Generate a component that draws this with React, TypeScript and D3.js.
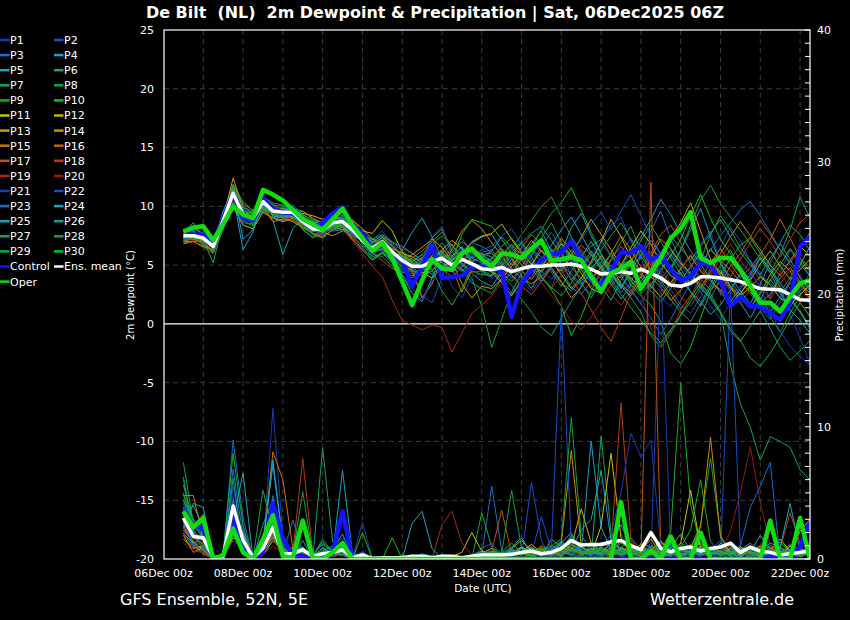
import React, { useEffect } from 'react';
import * as d3 from 'd3';

// GEFS run 06Dec2025 06Z, De Bilt. 6-hourly steps from 06Dec 12Z to 22Dec 06Z (64 steps)
const runStart = Date.UTC(2025, 11, 6, 12);

// ---- 2m dewpoint (°C) ----
const dewP1 = [7.3,7.6,7.0,6.5,8.6,10.8,9.6,8.8,10.2,9.8, 9.2,9.0,8.5,7.6,7.9,8.9,9.1,8.2,6.8,5.9, 6.5,5.2,4.1,3.5,4.8,6.2,5.9,4.7,6.3,5.5, 4.6, 3.8,4.6,5.8,6.9,5.2,4.1,3.0,5.5,7.4,6.2, 4.0,2.8,3.9,6.1,7.3,5.6,3.4,2.2,1.5,2.8, 4.5,6.8,7.9,5.2,3.1,2.4,4.3,6.1,5.0,3.2, 0.8,-1.2,-3.4];
const dewP2 = [7.6,7.4,7.5,6.9,9.1,11.4,8.9,9.3,10.9,9.4, 9.9,9.6,8.9,8.3,7.6,8.2,8.4,7.5,7.8,7.1, 7.9,6.8,5.9,4.6,2.4,1.8,3.9,6.4,7.3,6.0, 5.9, 5.4,3.9,2.6,3.4,5.1,6.6,7.8,6.3,4.0,3.3, 5.2,6.9,8.4,9.1,7.0,5.5,6.2,4.1,2.9,1.6, 0.9,2.3,4.8,6.5,8.2,7.1,5.3,3.6,2.2,4.4, 6.3,5.1,4.0];
const dewP3 = [7.9,7.7,7.2,6.3,8.2,10.3,8.6,8.5,9.8,9.3, 9.6,10.1,9.3,8.8,8.1,7.9,8.0,7.8,7.4,6.9, 7.3,6.5,5.8,5.0,5.6,6.4,5.2,4.4,4.9,5.7, 6.1, 6.3,5.1,4.2,3.3,4.0,5.4,6.0,4.6,3.1,2.5, 3.6,4.9,3.8,2.7,3.5,5.8,7.9,9.6,7.2,5.4, 4.1,3.0,2.2,3.8,5.7,4.3,2.6,1.3,0.4,1.9, 3.5,2.4,1.7];
const dewP4 = [7.4,8.2,7.6,6.8,9.5,10.9,6.3,7.8,10.6,9.1, 8.8,9.3,8.4,7.9,8.5,9.0,8.3,7.1,6.5,5.5, 6.1,5.4,6.3,7.8,9.0,7.4,5.5,4.6,5.8,7.0, 7.5, 7.6,6.3,5.0,5.9,4.7,3.6,4.8,6.1,8.2,9.4, 7.5,5.9,4.4,3.1,4.6,6.7,5.3,3.9,4.8,6.3, 8.0,9.8,7.4,5.1,4.0,2.8,1.7,3.4,5.2,6.9, 8.4,7.6,6.2];
const dewP5 = [7.7,7.3,7.8,7.0,8.9,11.6,9.9,9.4,10.0,8.8, 5.9,8.1,9.0,8.6,7.7,8.4,9.2,8.7,7.0,6.1, 6.8,5.9,4.2,2.6,1.9,3.9,6.0,6.8,5.1,4.3, 3.6, 3.2,4.4,5.5,4.1,3.0,4.6,6.4,5.2,3.7,4.9, 6.2,5.0,3.4,2.1,3.3,4.0,2.8,1.9,3.0,4.4, 2.7,1.5,3.1,4.6,3.2,1.8,0.5,2.0,3.8,2.6, 1.2,0.3,-0.8];
const dewP6 = [7.2,7.6,6.9,6.1,8.4,10.7,9.7,9.2,10.1,10.0, 9.7,9.1,8.8,8.4,8.2,8.5,8.9,8.1,7.3,6.6, 7.4,6.3,5.6,5.3,5.9,5.1,4.5,5.6,6.6,5.3, 4.4, 4.0,5.7,6.7,5.9,6.8,7.9,6.2,5.0,6.3,5.5, 4.4,3.2,2.0,3.7,5.1,4.2,3.0,4.6,5.9,4.7, 3.3,5.0,6.4,5.3,3.6,2.5,3.9,5.6,4.3,2.7, 1.4,2.8,3.6];
const dewP7 = [7.5,7.9,7.1,5.2,8.7,11.2,9.5,8.7,10.6,9.4, 9.4,9.7,8.3,7.8,8.3,8.8,8.6,7.7,7.2,6.7, 6.6,5.8,5.1,4.5,4.3,5.0,5.9,5.3,4.6,3.5, 3.0, 2.6,3.8,4.9,5.6,6.2,5.3,4.4,3.2,4.5,5.8, 6.6,7.2,5.8,4.7,3.6,2.9,4.0,5.2,6.3,5.1, 4.2,3.3,2.6,1.0,-3.5,-6.8,-8.8,-11.6,-9.6,-10.0, -10.5,-12.4,-13.3];
const dewP8 = [7.8,8.6,7.4,6.7,9.3,11.9,10.4,9.6,10.9,10.1, 10.0,9.2,8.0,7.4,7.9,8.7,9.3,8.5,7.6,6.0, 5.7,4.9,3.8,3.2,4.5,5.8,6.9,5.6,4.7,3.9, 1.5, -2.0,0.4,2.7,4.3,5.9,7.3,8.6,6.9,5.3,3.5, 2.2,3.7,5.4,7.0,8.3,6.1,4.6,3.5,2.1,1.0, 0.2,1.7,3.4,5.0,6.3,4.7,3.0,1.9,0.6,-0.7, 0.9,2.4,3.5];
const dewP9 = [7.1,7.2,6.8,6.0,8.0,10.4,8.8,8.3,9.9,9.5, 9.3,9.8,9.6,8.9,8.4,8.0,8.2,7.9,7.5,7.2, 7.6,7.0,6.2,5.5,5.0,4.6,5.3,6.1,7.0,6.4, 5.9, 5.2,4.3,3.6,4.8,6.5,8.0,9.4,10.3,11.6,9.7, 7.8,6.0,4.5,3.9,5.3,7.1,8.4,7.0,5.6,4.2, 3.6,5.4,7.6,9.2,8.0,6.5,5.3,4.1,3.4,2.7, 3.9,5.6,4.8];
const dewP10 = [7.9,8.1,7.7,7.2,9.4,11.3,9.0,8.6,10.3,9.9, 9.8,9.4,8.1,7.3,7.7,8.3,8.5,7.2,6.3,5.4, 6.0,5.5,4.8,4.6,5.4,7.3,8.1,6.2,5.0,4.5, 4.2, 4.1,5.0,6.1,7.0,5.7,4.0,2.9,1.5,-1.0,0.6, 2.8,4.5,6.0,4.8,3.3,2.4,1.6,0.2,-2.5,-3.4, -2.0,0.5,2.8,4.3,5.5,6.7,7.3,6.0,4.6,3.1, 2.0,1.1,-0.2];
const dewP11 = [7.0,7.0,6.6,6.3,8.1,10.0,8.4,8.1,9.5,9.0, 8.7,9.0,9.4,9.2,8.9,9.1,8.8,8.4,7.9,7.7, 8.8,7.9,6.1,5.2,4.4,3.9,4.8,5.4,6.0,6.9, 7.4, 7.7,8.5,7.2,6.0,5.1,4.4,5.6,6.8,5.7,4.3, 3.0,2.6,3.9,5.0,6.5,7.9,6.8,5.2,4.1,3.6, 4.9,6.0,5.3,4.4,3.2,2.4,3.1,4.0,3.3,2.2, 1.6,2.5,3.3];
const dewP12 = [7.3,7.5,7.4,6.9,8.9,11.0,9.1,9.1,10.2,9.7, 9.4,9.1,8.6,8.0,8.2,8.6,9.0,8.8,8.1,7.2, 6.9,6.4,6.0,5.7,5.2,5.5,6.3,7.1,6.4,5.2, 4.9, 4.4,3.5,2.4,3.7,5.0,6.3,5.4,4.2,3.0,3.9, 5.3,7.0,8.9,7.4,5.6,4.4,3.2,2.3,3.5,4.7, 5.8,4.5,3.6,2.9,1.7,2.6,3.7,5.1,6.2,4.9, 3.8,4.6,5.5];
const dewP13 = [7.6,7.2,6.9,6.2,9.0,12.4,9.8,8.9,10.7,9.2, 9.0,8.7,8.2,7.7,7.4,8.0,8.4,7.9,6.9,6.2, 6.4,5.7,5.4,5.9,6.5,7.2,6.5,5.3,3.4,2.2, 3.2, 3.0,3.8,4.9,5.9,7.1,6.2,5.1,4.5,5.8,7.4, 8.9,7.6,6.3,5.0,3.9,3.1,4.6,6.0,7.3,8.6, 10.3,7.9,5.5,4.1,3.0,2.2,1.4,2.6,4.2,5.3, 4.5,3.4,2.6];
const dewP14 = [6.8,7.0,7.1,6.7,8.6,11.5,9.4,9.0,10.0,9.9, 9.8,9.6,9.1,8.5,7.8,7.5,7.9,8.3,7.6,7.0, 6.9,6.1,5.5,4.8,4.1,4.5,5.5,6.3,7.9,8.8, 8.1, 6.9,5.8,4.7,3.9,3.4,4.0,4.8,3.6,2.2,3.1, 4.6,5.8,4.9,3.4,2.6,4.0,5.7,7.2,6.4,5.2, 4.3,3.1,4.4,6.0,7.4,8.7,7.5,6.3,5.0,4.1, 5.4,6.6,5.8];
const dewP15 = [7.4,7.8,7.5,6.4,8.4,10.6,9.2,9.2,9.8,8.7, 8.9,9.3,9.6,9.0,8.6,8.9,8.1,7.4,6.6,6.5, 7.4,6.7,5.7,4.5,2.2,3.4,5.6,4.8,2.7,4.6, 5.0, 5.5,6.4,5.6,4.5,3.8,4.9,5.9,7.3,6.1,4.7, 3.9,4.8,6.0,7.5,6.3,4.8,4.0,3.1,2.0,2.9, 4.0,5.1,6.3,5.4,4.6,3.5,2.7,1.8,2.5,3.9, 4.8,3.6,2.1];
const dewP16 = [7.0,7.3,7.0,6.6,9.2,11.8,10.2,9.7,10.5,10.2, 9.5,8.8,8.4,8.2,8.0,8.1,8.6,8.9,7.7,6.8, 6.3,5.6,5.2,5.6,6.2,7.0,7.8,6.6,5.5,5.0, 4.8, 4.4,4.0,5.2,6.5,7.6,6.8,5.6,4.8,5.6,6.7, 5.9,4.6,3.3,4.1,5.4,6.3,5.0,3.7,2.5,1.3, 2.4,3.8,5.2,6.4,5.1,3.9,4.8,5.9,7.2,8.9, 7.3,5.6,4.4];
const dewP17 = [7.7,7.5,7.6,6.8,8.5,10.9,9.0,8.6,10.1,9.5, 9.1,9.7,9.0,8.0,7.5,8.2,8.8,8.0,7.0,6.0, 5.4,4.7,4.3,5.0,5.7,5.2,4.7,4.0,4.8,5.6, 5.9, 6.0,5.3,4.1,3.2,2.5,3.6,4.9,5.7,4.8,3.9, 3.2,4.3,5.5,6.6,5.5,4.5,6.0,7.6,8.4,6.9, 5.1,3.8,2.9,3.5,4.9,6.0,7.4,8.8,7.6,6.3, 5.2,6.4,7.8];
const dewP18 = [6.9,7.0,6.5,6.0,8.3,10.5,9.3,8.8,9.7,9.0, 9.2,9.4,9.1,8.7,8.3,8.4,8.0,7.3,6.2,5.8, 6.7,6.0,5.0,4.2,4.7,5.9,6.3,5.8,5.2,4.4, 4.5, 4.9,5.9,6.8,5.5,4.6,5.2,6.1,5.0,3.8,2.6, 1.2,-0.3,-1.5,0.5,2.6,4.1,5.4,4.2,3.3,4.6, 5.9,4.8,3.6,2.8,4.0,5.5,6.9,8.1,7.0,5.7, 7.2,8.6,9.4];
const dewP19 = [7.2,7.1,6.9,6.4,8.9,11.3,9.6,8.9,10.3,9.4, 9.0,8.9,8.5,8.0,7.6,8.1,8.0,7.1,6.0,4.9, 4.0,2.0,0.3,-0.1,-0.5,-0.1,-0.3,-2.4,-0.8,0.9, 1.6, 2.4,3.5,4.6,5.7,4.8,3.9,3.0,4.2,5.3,6.4, 5.0,3.7,2.5,1.6,2.8,4.3,5.6,4.7,3.4,2.3, 1.5,2.9,4.1,5.6,6.8,5.4,4.3,3.2,2.1,3.4, 4.6,3.3,1.9];
const dewP20 = [7.6,7.9,7.2,6.5,8.0,10.2,8.9,9.4,10.8,10.0, 9.6,9.2,8.7,8.4,8.5,8.9,9.4,8.6,7.5,6.9, 7.1,6.6,6.4,6.0,5.4,4.8,5.6,6.5,5.9,5.1, 4.7, 4.5,5.6,6.2,5.1,4.3,3.5,2.4,1.5,0.2,-0.5, 0.6,1.9,3.4,4.6,3.8,2.7,-0.4,-1.8,-0.6,1.2, 2.5,3.6,4.7,3.9,2.8,1.7,2.9,4.2,5.6,4.4, 3.0,1.8,0.7];
const dewP21 = [7.5,7.7,7.3,6.8,8.8,10.6,9.1,8.9,10.0,9.5, 9.3,9.5,8.9,8.3,8.1,8.7,8.5,7.6,6.6,6.2, 7.2,6.3,4.3,3.0,2.0,3.6,5.0,3.2,2.2,4.0, 4.3, 4.8,5.5,4.6,3.6,2.8,3.9,5.2,6.3,5.5,4.6, 5.8,6.9,5.7,4.0,2.7,1.8,3.2,4.9,6.1,5.0, 3.9,2.7,1.5,0.4,1.8,3.3,4.5,3.1,1.2,-0.6, -1.9,-2.8,-3.5];
const dewP22 = [7.8,7.4,7.6,7.1,9.0,11.2,9.7,9.3,10.6,9.8, 9.9,9.7,8.8,8.0,7.6,8.5,9.1,8.3,7.2,6.5, 6.9,6.0,5.1,4.7,5.5,7.4,8.3,5.7,5.0,5.8, 6.3, 6.6,7.5,8.1,6.7,5.3,4.5,3.8,4.7,6.0,7.2, 8.5,9.5,8.0,9.6,11.0,9.2,7.5,5.9,4.7,3.6, 4.8,6.2,5.0,3.7,2.9,4.1,5.4,4.4,3.3,2.5, 1.8,3.0,4.3];
const dewP23 = [7.2,7.3,6.8,6.2,8.7,11.0,9.0,8.7,10.4,9.7, 9.4,9.0,8.6,8.2,8.3,8.8,8.6,7.8,6.9,6.3, 6.8,5.9,5.4,5.1,4.6,5.3,6.0,5.5,6.2,6.9, 6.6, 6.1,5.0,3.9,4.5,5.8,7.0,6.3,5.1,4.2,3.4, 2.5,3.8,5.0,4.1,2.9,1.7,0.5,-0.9,0.4,2.0, 3.5,5.0,6.3,7.5,8.6,9.7,10.4,9.2,7.8,6.3, 5.1,4.0,2.9];
const dewP24 = [7.6,7.8,7.4,6.7,9.6,11.5,7.2,8.0,10.1,9.2, 9.0,9.4,8.8,8.6,8.7,9.2,8.9,8.2,7.6,7.0, 7.5,6.9,6.6,6.0,5.4,5.6,6.2,5.1,4.5,5.3, 5.7, 6.2,7.4,6.5,5.4,4.6,5.5,6.7,8.0,9.1,7.6, 6.0,4.7,3.6,4.8,6.2,7.4,8.9,10.6,9.3,7.7, 6.2,5.1,3.8,2.6,1.9,3.0,4.2,5.7,4.6,3.5, 2.3,1.0,-0.4];
const dewP25 = [7.9,7.5,7.1,6.6,8.3,10.8,9.5,8.6,9.6,9.6, 9.7,9.9,9.2,8.5,7.9,8.3,8.0,7.5,7.1,6.7, 7.0,6.2,5.7,5.2,4.8,4.2,4.9,5.8,6.5,5.6, 5.2, 4.7,3.6,4.3,5.5,6.3,5.7,4.6,3.5,2.8,3.7, 4.8,5.6,4.2,3.0,4.5,5.9,7.1,6.0,4.9,3.9, 2.7,1.9,0.8,1.6,2.9,4.3,3.4,2.2,1.0,2.3, 3.6,5.0,6.6];
const dewP26 = [7.4,7.6,7.2,6.9,9.1,11.7,10.0,9.5,10.4,9.3, 9.1,9.3,8.5,7.9,8.0,8.6,9.0,8.4,7.3,6.4, 6.2,5.3,4.6,3.9,4.9,5.7,5.2,4.6,5.4,6.2, 6.0, 5.7,4.9,5.8,6.9,7.7,8.3,7.1,5.9,4.8,5.7, 7.0,5.5,4.3,3.2,2.4,3.6,4.8,6.0,7.4,6.5, 5.4,6.6,7.7,8.9,7.4,6.1,5.0,4.2,5.6,6.8, 5.5,3.9,2.8];
const dewP27 = [7.7,8.0,7.0,6.1,8.6,11.0,9.4,8.9,9.9,9.6, 9.5,9.2,8.4,8.0,7.8,8.2,8.8,8.1,6.8,5.7, 6.0,5.2,4.4,4.1,4.9,5.4,5.8,4.9,5.3,6.0, 5.8, 5.3,4.2,3.3,2.1,1.0,-0.3,-1.0,0.5,1.9,3.2, 4.5,5.3,4.4,3.3,2.2,1.0,-1.0,-2.0,-0.8,0.7, 1.9,3.2,2.1,0.9,-0.6,-1.5,-0.2,1.1,-0.4,-2.0, -3.1,-2.3,-1.4];
const dewP28 = [7.3,7.7,7.5,7.0,9.2,11.4,9.2,9.1,10.8,10.3, 10.1,9.5,8.6,7.6,7.3,8.0,8.7,8.6,7.7,6.9, 7.3,6.6,5.9,5.3,5.9,6.8,7.5,6.7,5.7,4.9, 4.5, 4.2,5.3,6.4,7.6,8.8,10.0,10.8,9.1,7.4,6.0, 5.1,6.3,7.5,8.6,7.2,5.8,4.5,3.3,4.6,6.2, 8.4,10.5,11.8,10.2,9.1,8.0,6.8,5.5,4.4,5.9, 8.0,10.8,9.0];
const dewP29 = [7.0,7.4,6.7,6.3,8.1,10.9,9.3,8.4,9.8,9.3, 9.2,9.6,9.3,8.8,8.6,8.5,8.3,7.9,7.4,6.8, 6.5,5.6,4.9,4.4,5.2,4.6,2.8,1.6,3.0,4.8, 5.1, 5.6,6.6,7.3,6.2,5.0,3.9,3.1,2.4,3.5,4.8, 5.9,4.8,3.6,2.5,1.4,0.3,-0.8,-1.6,-0.5,0.8, 2.2,3.5,2.3,1.0,-0.4,-1.4,-2.9,-3.6,-2.5,-1.1, 0.4,1.8,0.6];
const dewP30 = [7.6,7.2,7.4,6.8,8.9,11.1,9.6,9.4,10.2,9.6, 9.5,9.0,8.9,8.3,8.0,8.4,8.2,7.7,7.0,6.5, 6.7,6.1,5.8,5.4,4.8,5.5,6.1,5.3,7.6,8.9, 8.6, 8.3,7.2,6.0,5.0,4.4,5.1,6.0,6.9,5.8,4.6, 3.5,2.9,3.9,5.0,3.7,2.6,3.4,4.5,5.8,7.2, 9.2,11.0,9.0,7.2,6.0,4.8,3.7,2.6,3.7,5.0, 6.4,5.3,4.1];
const dewControl = [7.7,7.6,7.6,6.7,9.0,11.0,9.0,8.8,10.7,9.8, 9.5,9.4,8.8,8.2,8.6,9.4,9.9,8.4,7.7,6.3, 6.7,6.0,5.4,3.2,4.9,6.7,3.9,4.0,4.1,4.8, 4.9, 4.6,4.6,0.6,3.45,4.6,5.4,5.9,6.1,7.0,5.6, 3.7,3.3,4.45,6.1,6.0,6.6,5.4,5.9,4.6,3.7, 4.0,5.2,5.0,3.7,1.5,2.3,1.5,1.5,0.9,0.35, 1.8,6.6,7.4];
const dewOper = [7.85,8.2,8.3,7.1,8.5,10.0,9.3,9.0,11.4,11.0, 10.5,9.7,8.9,8.5,8.0,8.9,9.8,8.4,7.3,6.2, 6.9,5.6,3.6,1.6,3.7,5.5,4.7,4.6,6.0,6.4, 5.5, 4.9,6.0,5.9,5.6,6.4,7.1,5.4,5.5,5.7,5.4, 4.0,2.75,4.3,4.7,5.3,3.0,4.3,5.6,7.3,8.1, 9.5,5.6,5.2,5.6,5.6,4.6,3.2,1.8,1.8,1.05, 2.3,3.45,3.7];
const dewMean = [7.5,7.5,7.3,6.6,8.8,11.1,9.3,9.0,10.4,9.6, 9.5,9.5,8.7,8.1,8.0,8.6,8.7,8.0,7.1,6.4, 7.0,6.1,5.4,4.9,4.9,5.3,5.6,5.0,5.5,5.1, 4.7, 4.6,4.8,4.45,4.7,4.9,4.9,5.0,5.0,5.1,4.9, 4.65,4.25,4.3,4.45,4.3,4.65,4.3,3.9,3.3,3.2, 3.45,4.0,4.0,3.9,3.75,3.6,3.3,3.0,2.95,2.9, 2.5,2.05,2.0];

// ---- 6h precipitation (mm) ----
const prP1 = [6.0,2.1,1.2,0,0.3,5.5,1.0,0,0.5,11.4, 1.8,0.6,0.4,0,0.2,0.5,1.2,0,2.8,0, 0,0,0,0.2,0,0,0.4,0,0,0.3, 0.5,0.8, 0.2, 0,0.3,1.1,0.4,0,0.6,1.5,0.9, 0.3,0,0.8,1.9,0.6,0,0.2,22.0,0.4,1.0, 0.3,0,0,0.5,1.2,0.4,0,0,0.6,0.2, 0,0.3,1.4];
const prP2 = [4.2,1.5,2.0,0,0,3.6,2.2,0,0.4,3.0, 0.5,0.3,0.9,0.1,0,0.3,0.8,0,0.6,0, 0,0,0.1,0,0,0.3,0,0,0,0.2, 0.8,1.2, 0.3, 0.6,0.2,5.8,1.4,0,0.5,0.9,0.3, 0,0.6,1.1,0.4,0,0.5,1.2,0.3,0,0.2, 0.6,1.0,0.4,0,20.5,0.8,0,0.3,0.2,0, 0.4,0,0.7];
const prP3 = [3.3,1.0,0.8,0,0.2,9.0,3.1,0,0.7,2.5, 0.4,2.95,0.5,0,0.3,0.6,0.4,0,0.2,0, 0,0.1,0,0,0.2,0,0,0.1,0,0, 0.3,5.5, 0.6, 0.4,0,0.6,0.2,1.0,0.7,0.3,0, 0.5,1.3,0.8,0.2,0,1.2,0.9,0.3,0,0.4, 0,0.2,0.7,1.4,0.5,0,0.3,0.6,0.2,0, 0.5,0.9,0.3];
const prP4 = [2.8,1.2,1.6,0,0,4.5,1.1,0,1.3,7.1, 1.2,0.4,0,0.2,0.8,0.3,1.0,0,0,0, 0,0,0.3,0,0,0.1,0,0,0.2,0, 0.6,0.2, 0.4, 0.9,1.6,0.4,0.8,0.3,1.2,2.0,0.5, 8.9,2.4,0.7,1.5,0.6,0.2,0.8,0.4,1.1,0.3, 0.9,0.4,0.2,1.0,0.6,0.3,0.5,1.8,0.7,0.4, 1.1,0.3,0.6];
const prP5 = [3.5,4.0,2.5,0,0.2,2.1,1.6,0,0.9,1.8, 0.6,0,0.3,0.3,1.1,0.7,1.9,0,0,0, 0,0,0,0,0.4,0.2,0,0,0,0.3, 0,0.4, 0.2, 0.6,0.3,0.8,0.2,1.5,0.9,0.4,0.2, 0.7,0.4,1.2,2.6,0.9,0.3,0.6,0.2,0.8,1.9, 0.6,0.3,0.9,0.4,0,0.7,1.2,0.5,0.3,0, 1.0,0.8,0.4];
const prP6 = [2.0,0.9,0.6,0,0.3,3.8,0.5,0,2.6,4.5, 0.9,0.2,1.4,0,0.6,1.0,0.5,0,0.4,0, 0,0.2,0,0,0,0,0.3,0,0,0, 0.2,0, 0.4, 0.5,0.9,0.3,0,0.6,1.1,0.8,0.4, 1.0,0.5,0.3,0.8,1.6,0.7,0.4,1.3,0.6,0.2, 0.5,1.4,0.7,0.3,0.9,0.2,0,0.5,1.0,0.6, 0.3,0.7,0.2];
const prP7 = [7.3,2.7,1.8,0,0,6.1,0.8,0,1.4,3.6, 1.0,0.3,0.7,0,8.4,1.3,0.6,0,0.5,0, 0,0,0.2,0,0,0,0,0.2,0,0, 0.4,0.2, 0.3, 0,0.5,0.3,0.8,0.4,0.2,1.3,0.6, 0.2,9.3,2.0,0.6,0.5,0.3,0.9,0.4,0.2,1.2, 0.8,0.5,0.3,0.6,0.2,0,0,0,0,0, 0,0,0];
const prP8 = [4.9,2.3,3.4,0,0.2,2.8,1.5,0,5.2,2.2, 0.7,0.4,5.1,0.3,0.5,0.2,0.9,0,0.3,0, 0,0,0,0.1,0,0,0,0,0.2,0, 0.3,0.6, 0.4, 5.2,0.8,0.4,0.3,0.7,1.4,0.5,0.9, 0.6,0.3,0.8,0.4,1.0,0.5,0.3,0.6,1.2,0.4, 0.9,2.6,7.6,1.8,0.4,0.2,0.6,0.3,0.8,0.5, 0.2,0.6,0.9];
const prP9 = [3.9,1.7,1.1,0,0.5,8.0,2.5,0,0.8,2.9, 0.3,0.6,0.9,0.2,1.3,0.4,0.7,0,0,0, 0,0,0,0,0,0.2,0,0,0,0, 3.5,0.9, 0.4, 0.3,0.6,0.2,0.4,0.8,0.5,0.3,1.0, 0.5,0.2,0.6,1.2,0.7,0.4,1.0,0.6,2.1,13.3, 4.1,1.0,0.6,0.3,0.8,0.5,0.2,0.4,0.7,0.3, 0.6,0.2,0.5];
const prP10 = [5.6,2.9,2.1,0,0,1.8,0.9,0,1.0,4.0, 0.8,0.2,0.6,0,0.4,0.3,1.2,0,2.0,0, 0,1.6,0,0,0,0,0.2,0,0,0.3, 0.6,0.3, 0.5, 1.2,0.5,0.9,0.4,0.2,0.7,1.6,0.8, 0.4,0.9,0.5,1.4,0.6,0.3,0.5,0.8,0.3,0.6, 1.1,0.4,0.7,0.3,0.5,0.9,0.4,0.2,0.6,1.3, 0.5,0.3,0.8];
const prP11 = [1.5,0.8,1.0,0,0.2,2.4,0.6,0,0.3,1.4, 0.5,0.2,0.4,0.1,0.3,0.2,0.5,0,0.2,0, 0,0,0,0.3,0.1,0,0,0.2,0.5,2.0, 0.6,0.3, 0.5, 0.4,0.9,0.5,0.2,0.7,0.4,1.1,0.6, 0.3,2.5,8.0,1.6,0.4,0.7,0.3,0.9,0.5,1.2, 5.2,0.8,0.4,0.6,0.3,0.9,0.5,0.2,0.7,1.5, 0.6,2.1,3.0];
const prP12 = [2.2,1.3,0.7,0,0.3,1.6,1.2,0,0.6,2.0, 0.4,0.8,0.3,0,0.2,0.6,0.3,0,0,0, 0,0,0.2,0,0,0,0.3,0.1,0,0, 0.2,0.5, 0.3, 0.8,1.4,0.6,0.3,0.5,0.2,0.9,3.8, 1.2,0.6,0.3,0.8,0.5,1.1,0.4,0.2,0.6,0.3, 0.7,1.2,0.5,0.3,0.8,0.4,0.6,1.0,0.3,0.2, 1.0,0.4,0.6];
const prP13 = [1.8,0.5,0.9,0,0.4,3.2,2.0,0,1.1,2.7, 0.6,0.3,0.2,0.1,0.4,0.8,0.6,0,0.2,0, 0,0,0,0.1,0,0.2,0,0,0,0.2, 0.4,0.8, 0.2, 0.3,0.6,1.1,0.5,0.3,0.9,0.6,0.4, 0.8,0.4,1.3,0.7,0.3,0.6,1.5,0.4,0.2,0.8, 0.5,0.9,0.3,1.2,0.6,0.3,0.8,0.4,0.2,0.6, 0.3,0.8,2.6];
const prP14 = [2.6,1.0,0.4,0,0.2,2.2,0.7,0,0.5,1.6, 0.3,0.9,0.6,0,0.2,0.3,0.8,0,0,0, 0,0,0,0,0,0,0,0,0,0.1, 0.3,0.2, 0.4, 0.6,0.4,0.8,0.3,0.5,1.2,8.2,1.0, 0.4,0.7,0.3,0.9,0.5,0.2,0.6,1.4,0.5,0.3, 0.8,2.4,9.2,1.7,0.4,0.6,0.3,0.8,0.5,0.2, 0.6,0.3,0.9];
const prP15 = [4.8,4.8,1.5,0,0.3,3.0,1.4,0,0.9,8.1, 6.0,0.8,0.3,0.2,0.5,0.4,0.6,0,0.3,0, 0,0,0.1,0,0,0,0,0,0.1,0, 0.2,0.5, 0.2, 0.3,0.8,0.4,1.0,0.6,0.3,0.7,0.5, 0.3,0.9,0.5,0.4,1.2,0.6,0.3,0.8,0.4,0.2, 0.6,0.3,0.9,0.5,0.2,0.7,0.4,0.3,0.6,0.9, 0.4,0.2,0.5];
const prP16 = [3.0,1.8,0.8,0,0.4,4.2,0.9,0,0.6,2.3, 1.5,0.4,0.8,0,0.3,0.6,0.9,0,0,0, 0,0,0,0.2,0,0,0,0,0,0, 0.5,0.3, 0.4, 0.7,0.4,0.2,0.6,0.9,0.4,0.8,0.3, 0.6,0.4,0.2,0.7,0.5,0.3,0.9,0.6,0.3,0.5, 0.4,0.8,0.6,0.3,1.1,0.5,0.2,0.6,0.9,0.4, 0.7,0.5,0.3];
const prP17 = [2.4,1.1,0.6,0,0,2.6,1.0,0,0.4,1.9, 0.5,0.3,0.6,0.1,0.2,0.3,0.4,0,0,0, 0,0,0,0,0,0.2,0,0,0,0, 0.4,0.6, 3.7, 0.4,0.5,0.3,0.8,0.4,0.2,0.6,0.9, 0.3,0.5,0.8,0.4,0.6,0.3,28.5,0.9,0.4,0.6, 0.2,0.7,0.4,0.3,0.5,0.8,0.3,0.6,0.4,0.2, 0.5,0.8,0.4];
const prP18 = [3.8,1.6,0.9,0,0.2,3.4,1.8,0,0.6,2.4, 0.8,0.5,7.6,0.4,0.3,0.5,0.7,0,0.2,0, 0,0,0,0,0,0,0,0,0,0, 0.3,0.5, 0.3, 0.2,0.6,0.4,0.9,0.3,0.5,0.8,0.4, 0.6,0.3,0.9,11.8,1.4,0.5,0.8,0.3,0.6,0.4, 0.9,0.3,0.5,0.7,0.4,0.2,0.6,0.9,0.3,0.8, 3.5,1.2,0.6];
const prP19 = [1.2,0.6,0.5,0,0.2,1.4,0.8,0,0.3,1.0, 0.4,0.2,0.3,0,0.1,0.2,0.3,0,0,0, 0,0,0,0,0,0,2.6,3.6,1.2,0.3, 0,0.2, 0.3, 0.4,0.1,0.3,0.5,0.2,0.4,0.6,0.3, 0.5,0.8,0.4,0.2,0.6,0.3,0.9,0.5,0.3,0.7, 0.4,0.2,0.5,0.8,0.3,0.6,0.4,0.2,0.5,0.3, 0.6,0.4,0.2];
const prP20 = [2.0,0.7,1.3,0,0.3,2.0,0.6,0,0.8,1.5, 0.3,0.6,0.4,0.2,0.3,0.4,0.5,0,0.1,0, 0,0,0,0,0,0,0,0.1,0,0, 0.2,0.4, 0.3, 0.6,0.3,0.5,0.2,0.8,0.4,0.3,0.6, 0.4,0.3,0.7,0.5,0.3,0.9,0.4,0.6,0.3,0.5, 0.8,0.3,0.6,0.4,2.1,5.0,8.5,4.3,1.1,0.4, 0.3,0.7,0.5];
const prP21 = [2.7,1.4,0.9,0,0.2,4.8,1.3,0,0.7,3.4, 0.9,0.5,0.3,0,0.4,0.8,1.6,0,0.5,0, 0,0,0,0,0.1,0,0,0,0,0.2, 0.4,0.2, 0.5, 0.7,0.3,0.6,0.5,0.9,0.4,0.3,0.8, 0.3,0.6,1.9,5.0,9.5,7.7,9.0,0.9,0.4,0.6, 0.3,0.5,0.8,0.4,0.2,0.6,0.3,0.5,0.7,0.4, 0.2,0.6,0.4];
const prP22 = [3.1,0.9,1.9,0,0.3,3.9,0.8,0,0.5,2.8, 0.6,0.3,0.5,0,0.2,0.4,0.9,0,0.3,0, 0,0,0,0,0,0,0,0,0,0, 0.3,0.6, 0.4, 0.2,0.5,0.4,3.2,0.6,19.0,0.9,0.7, 0.4,0.2,0.6,0.3,0.8,0.5,0.3,0.6,0.2,0.4, 0.7,0.3,0.5,0.2,0.6,0.4,0.8,0.3,0.5,0.6, 0.3,0.5,0.8];
const prP23 = [4.5,2.0,1.4,0,0.2,6.8,1.7,0,0.6,4.8, 0.7,0.4,0.2,0,0.3,0.5,0.4,0,0.2,0, 0,0,0,0,0,0.1,0,0,0,0, 0.2,0.4, 0.3, 0.8,0.3,0.5,0.2,0.6,0.4,0.9,0.5, 0.3,0.7,0.4,0.6,0.2,0.5,0.9,0.4,0.3,0.6, 0.4,0.8,0.3,0.5,0.6,1.0,3.9,5.5,7.3,0, 0.4,0.2,0.6];
const prP24 = [1.9,1.2,0.7,0,0.4,2.5,1.9,0,0.9,7.5, 1.4,0.6,0.5,0.2,0.8,0.3,6.7,0.4,0.3,0, 0,0,0,0.2,0,0,0,0,0,0, 0.3,0.2, 0.4, 0.5,0.8,0.4,0.6,0.3,0.7,1.8,0.5, 0.6,0.4,0.9,0.3,0.5,0.8,0.4,0.6,0.3,0.7, 0.5,0.3,0.6,0.9,0.4,0.2,0.7,0.5,0.3,0.8, 0.6,0.4,0.3];
const prP25 = [2.3,4.2,3.9,0,0.3,2.9,6.5,0,0.4,1.7, 0.5,0.3,0.6,0.1,0.4,0.2,0.7,0,0,0, 0,0,0,2.7,3.6,0.8,0,0,0,0, 0.3,0.5, 0.4, 0.2,0.6,0.9,0.4,0.7,1.3,0.6,2.2, 3.0,6.7,1.4,0.6,0.3,0.8,0.5,0.4,0.9,0.3, 0.6,0.4,0.8,0.3,0.5,0.7,0.4,0.6,1.2,0.9, 4.2,0.6,0.4];
const prP26 = [3.6,2.5,1.6,0,0.2,3.3,1.2,0,0.8,2.1, 0.4,0.7,0.9,0.1,0.3,0.6,0.5,0,0.1,0, 0,0,0,0,0,0,0.2,0,0,0, 0.4,0.3, 0.2, 0.7,0.5,0.2,0.8,0.4,0.6,0.3,0.9, 0.5,0.3,0.6,0.8,0.4,0.2,0.7,0.5,0.9,0.4, 0.3,0.7,0.5,0.4,0.6,0.3,0.8,0.5,0.2,0.6, 0.4,0.8,0.5];
const prP27 = [6.2,1.9,1.0,0,0.3,4.0,0.9,0,1.2,2.6, 0.6,0.4,0.8,0.2,1.5,0.5,0.3,0,0.4,0, 0,0,0,0,0,0,0,0,0,0, 0.2,0.5, 0.4, 0.3,0.8,0.4,0.6,0.5,0.3,0.7,0.4, 0.6,0.9,0.3,0.5,0.7,0.4,0.3,0.8,0.5,0.2, 0.4,0.6,0.9,0.5,0.3,0.7,0.4,0.2,0.6,0.3, 0.5,0.3,0.7];
const prP28 = [4.4,3.0,2.4,0,0.2,3.1,1.1,0,0.6,3.8, 0.5,0.2,0.7,0,0.9,0.4,1.0,0,0.4,0, 0,0,0,0,0,0,0,0,0,0, 0.5,0.3, 0.4, 0.6,0.4,0.2,0.7,1.0,1.5,10.7,1.8, 0.6,0.5,0.4,0.7,0.3,0.6,0.4,0.9,0.5,0.3, 0.6,0.4,0.7,0.3,0.5,0.8,0.4,0.6,0.3,0.5, 0.7,0.4,0.3];
const prP29 = [5.0,2.6,1.7,0,0.4,2.6,0.7,0,1.6,2.4, 0.8,0.4,0.5,0.2,0.6,0.3,0.5,0,0.2,0, 0,0,0,0,0,0,0,0,0,0.2, 0.4,0.2, 0.3, 0.6,0.3,0.5,0.8,0.4,0.6,0.9,0.3, 0.5,0.8,0.4,0.6,0.3,0.5,0.7,1.2,0.4,0.9, 2.2,6.0,1.3,0.5,0.3,0.6,0.4,0.8,0.5,0.7, 0.4,0.3,0.6];
const prP30 = [3.4,2.2,1.3,0,0.3,3.5,1.0,0,0.9,3.1, 0.7,0.3,0.6,0.1,0.5,0.4,0.8,0,0.3,0, 0,0,0,0,0,0,0,0,0,0, 0.3,0.6, 0.4, 0.4,0.5,0.3,0.7,0.5,0.4,0.8,0.6, 0.4,0.7,0.5,0.3,0.8,0.4,0.6,0.5,0.3,0.7, 0.5,0.8,0.4,0.6,0.3,0.7,0.5,0.4,0.8,0.3, 0.6,0.4,0.5];
const prControl = [3.7,2.5,2.3,0,0.2,3.2,0.8,0,0.5,4.2, 1.5,0.3,0.2,0,0.1,0.4,3.6,0,0,0, 0,0,0,0,0,0,0,0,0,0, 0,0, 0, 0,0,0,0,0,0,0,0, 0,0,0,0,0,0,0,0,0,0, 0,0,0,0,0,0,0,0,0.2,0, 0.3,0.9,2.8];
const prOper = [3.6,2.4,3.1,0,0.3,2.3,0.5,0,1.5,3.3, 0.2,0.1,2.9,0.1,0,0.5,1.2,0,0,0, 0,0,0,0,0,0,0,0,0,0, 0,0, 0, 0,0,0,0,0,0,0,0, 0,0,0,4.3,0,0,0.6,0,1.7,0, 0,2.0,0,0,0,0,0,0,2.9,0, 0,3.1,0];
const prMean = [3.1,1.7,1.6,0.1,0.2,4.0,1.4,0.1,0.8,2.4, 0.4,0.4,0.7,0.2,0.4,0.5,0.7,0.1,0.3,0.05, 0.1,0.1,0.1,0.2,0.2,0.1,0.2,0.2,0.1,0.2, 0.3,0.3, 0.3, 0.35,0.5,0.6,0.4,0.5,0.8,1.4,1.05, 1.1,1.1,1.3,1.4,1.0,0.7,2.0,0.8,0.55,0.8, 0.9,0.6,0.8,0.9,1.2,0.5,0.9,0.6,0.5,0.3, 0.4,0.5,0.6];

const dewMembers = [dewP1, dewP2, dewP3, dewP4, dewP5, dewP6, dewP7, dewP8, dewP9, dewP10, dewP11, dewP12, dewP13, dewP14, dewP15, dewP16, dewP17, dewP18, dewP19, dewP20, dewP21, dewP22, dewP23, dewP24, dewP25, dewP26, dewP27, dewP28, dewP29, dewP30];
const precMembers = [prP1, prP2, prP3, prP4, prP5, prP6, prP7, prP8, prP9, prP10, prP11, prP12, prP13, prP14, prP15, prP16, prP17, prP18, prP19, prP20, prP21, prP22, prP23, prP24, prP25, prP26, prP27, prP28, prP29, prP30];

const memberNames = d3.range(1, 31).map(n => `P${n}`);
const palette = ['#1a3cb4', '#1450c8', '#1a6ec8', '#18a0c8', '#14a8b4', '#14a08c', '#14a064', '#14a044', '#14b028', '#10c010',
  '#c8c000', '#c8b000', '#c8a000', '#c89000', '#c87800', '#c06400', '#c05014', '#b83c14', '#a82814', '#981814'];
const controlColor = '#1414ff';
const operColor = '#10dc10';

const dewTicks = [25, 20, 15, 10, 5, 0, -5, -10, -15, -20];
const precTicks = [40, 30, 20, 10, 0];

const titleText = 'De Bilt  (NL)  2m Dewpoint & Precipitation | Sat, 06Dec2025 06Z';
const font = 'DejaVu Sans, Verdana, sans-serif';

const App: React.FC = () => {
  useEffect(() => {
    document.body.style.margin = '0';
    document.body.style.background = '#000';
  }, []);

  const left = 164, right = 810, top = 30, bottom = 559;

  const x = d3.scaleUtc()
    .domain([new Date(Date.UTC(2025, 11, 6, 0)), new Date(Date.UTC(2025, 11, 22, 6))])
    .range([163.5, 810]);
  const yDew = d3.scaleLinear().domain([-20, 25]).range([bottom, top]);
  const yPrec = d3.scaleLinear().domain([0, 40]).range([bottom, top]);

  const stepTime = (i: number) => new Date(runStart + i * 6 * 3600 * 1000);
  const dewLine = d3.line<number>().x((_, i) => x(stepTime(i))).y(d => yDew(d));
  const precLine = d3.line<number>().x((_, i) => x(stepTime(i))).y(d => yPrec(d));

  const gridDays = d3.utcDay.range(new Date(Date.UTC(2025, 11, 7)), new Date(Date.UTC(2025, 11, 22, 1)));
  const labelDays = d3.range(0, 17, 2).map(d => new Date(Date.UTC(2025, 11, 6 + d)));
  const fmt = d3.utcFormat('%d%b %Hz');

  const legendRow = (r: number) => 40 + r * 15.1;

  return (
    <svg width={850} height={620} style={{ display: 'block', background: '#000' }} fontFamily={font}>
      <defs>
        <clipPath id="plotClip">
          <rect x={left} y={top} width={right - left} height={bottom - top} />
        </clipPath>
      </defs>
      <rect width={850} height={620} fill="#000" />

      {/* grid */}
      <g stroke="#3c3c36" strokeWidth={1} strokeDasharray="5,4">
        {gridDays.map((d, i) => (
          <line key={'v' + i} x1={x(d)} x2={x(d)} y1={top} y2={bottom} />
        ))}
        {dewTicks.filter(v => v !== 0 && v !== 25 && v !== -20).map(v => (
          <line key={'h' + v} x1={left} x2={right} y1={yDew(v)} y2={yDew(v)} />
        ))}
      </g>
      <line x1={left} x2={right} y1={yDew(0)} y2={yDew(0)} stroke="#fff" strokeWidth={1.2} />

      {/* ensemble members */}
      <g clipPath="url(#plotClip)" fill="none" strokeWidth={1}>
        {dewMembers.map((s, k) => (
          <path key={'d' + k} d={dewLine(s) || ''} stroke={palette[k % 20]} />
        ))}
        {precMembers.map((s, k) => (
          <path key={'p' + k} d={precLine(s) || ''} stroke={palette[k % 20]} />
        ))}
        <path d={dewLine(dewControl) || ''} stroke={controlColor} strokeWidth={4.5} strokeLinejoin="round" />
        <path d={precLine(prControl) || ''} stroke={controlColor} strokeWidth={4.5} strokeLinejoin="round" />
        <path d={dewLine(dewMean) || ''} stroke="#ffffff" strokeWidth={3.5} strokeLinejoin="round" />
        <path d={precLine(prMean) || ''} stroke="#ffffff" strokeWidth={3.5} strokeLinejoin="round" />
        <path d={dewLine(dewOper) || ''} stroke={operColor} strokeWidth={4.5} strokeLinejoin="round" />
        <path d={precLine(prOper) || ''} stroke={operColor} strokeWidth={4.5} strokeLinejoin="round" />
      </g>

      {/* frame */}
      <rect x={left} y={top} width={right - left} height={bottom - top} fill="none" stroke="#fff" strokeWidth={1.2} />
      {d3.range(0, 41).map(v => (
        <line key={'mt' + v} x1={right - 5} x2={right} y1={yPrec(v)} y2={yPrec(v)} stroke="#fff" strokeWidth={1} />
      ))}

      {/* axes labels */}
      <g fill="#fff" fontSize={11}>
        {dewTicks.map(v => (
          <text key={'dl' + v} x={154} y={yDew(v)} dy="0.35em" textAnchor="end">{v}</text>
        ))}
        {precTicks.map(v => (
          <text key={'pl' + v} x={817} y={yPrec(v)} dy="0.35em">{v}</text>
        ))}
        {labelDays.map((d, i) => (
          <text key={'xl' + i} x={x(d)} y={577} textAnchor="middle">{fmt(d)}</text>
        ))}
      </g>
      <text x={483} y={592} fill="#fff" fontSize={10.5} textAnchor="middle">Date (UTC)</text>
      <text transform="translate(134,295) rotate(-90)" fill="#fff" fontSize={10} textAnchor="middle">2m Dewpoint (°C)</text>
      <text transform="translate(843,295) rotate(-90)" fill="#fff" fontSize={10} textAnchor="middle">Precipitation (mm)</text>

      {/* title & footer */}
      <text x={435} y={18} fill="#fff" fontSize={15.5} fontWeight="bold" textAnchor="middle"
        textLength={578} lengthAdjust="spacingAndGlyphs" style={{ whiteSpace: 'pre' }}>
        {titleText}
      </text>
      <text x={120} y={605} fill="#fff" fontSize={16}>GFS Ensemble, 52N, 5E</text>
      <text x={650} y={605} fill="#fff" fontSize={16}>Wetterzentrale.de</text>

      {/* legend */}
      <g fontSize={11} fill="#fff">
        {memberNames.map((name, k) => {
          const col = k % 2;
          const row = Math.floor(k / 2);
          const lx = col === 0 ? 0 : 54;
          const y = legendRow(row);
          return (
            <g key={name}>
              <line x1={lx} x2={lx + 9.5} y1={y} y2={y} stroke={palette[k % 20]} strokeWidth={2.5} />
              <text x={lx + 10} y={y} dy="0.36em">{name}</text>
            </g>
          );
        })}
        <line x1={0} x2={9.5} y1={legendRow(15)} y2={legendRow(15)} stroke={controlColor} strokeWidth={2.5} />
        <text x={10} y={legendRow(15)} dy="0.36em">Control</text>
        <line x1={54} x2={63.5} y1={legendRow(15)} y2={legendRow(15)} stroke="#fff" strokeWidth={2.5} />
        <text x={64} y={legendRow(15)} dy="0.36em">Ens. mean</text>
        <line x1={0} x2={9.5} y1={legendRow(16)} y2={legendRow(16)} stroke={operColor} strokeWidth={2.5} />
        <text x={10} y={legendRow(16)} dy="0.36em">Oper</text>
      </g>
    </svg>
  );
};

export default App;
